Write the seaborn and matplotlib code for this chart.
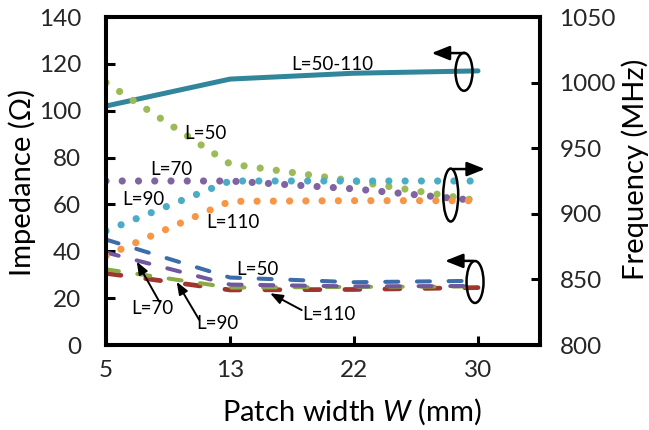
import matplotlib
matplotlib.use("Agg")
import matplotlib.pyplot as plt
import seaborn as sns
from matplotlib.patches import Ellipse
from matplotlib.patches import ArrowStyle

# ---------------- data ----------------
W_mm = [5, 13, 22, 30]                       # patch width categories
imp_L50_110 = [102, 113.5, 116, 117]         # solid line, impedance (Ohm)
imp_L50 = [45, 28.8, 26.8, 27.4]             # dashed, impedance
imp_L70 = [39.5, 25.8, 25.0, 25.2]
imp_L90 = [32.3, 24.5, 24.8, 25.0]
imp_L110 = [30.6, 23.5, 23.7, 24.5]
freq_L50 = [1000, 938, 925, 910]             # dotted, frequency (MHz)
freq_L70 = [925, 925, 919, 910]
freq_L90 = [887, 925, 925, 925]
freq_L110 = [868, 909.5, 910, 910]
left_ticks = [0, 20, 40, 60, 80, 100, 120, 140]
right_ticks = [800, 850, 900, 950, 1000, 1050]

pos = list(range(len(W_mm)))

sns.set_theme(style="white")
plt.rcParams['font.family'] = ['Lato', 'DejaVu Sans']
plt.rcParams['mathtext.fontset'] = 'custom'
plt.rcParams['mathtext.it'] = 'Lato:italic'
plt.rcParams['mathtext.rm'] = 'Lato'
plt.rcParams['lines.scale_dashes'] = False

fig = plt.figure(figsize=(6.49, 4.30), dpi=100)
ax = fig.add_axes([106/649, 85/430, 434/649, 328/430])
ax2 = ax.twinx()


def draw(axis, y, color, lw, ls):
    sns.lineplot(x=pos, y=y, ax=axis, color=color, linewidth=lw, linestyle=ls,
                 dash_capstyle='round', solid_capstyle='round',
                 legend=False, errorbar=None)


dot = (0, (0.001, 11.7))
dash = (0, (9.4, 13.4))
longdash = (0, (10.8, 18.0))

# impedance (left axis)
draw(ax, imp_L50_110, '#31869B', 3.6, '-')
draw(ax, imp_L50, '#3D6CAA', 2.9, dash)
draw(ax, imp_L110, '#A0342F', 3.4, longdash)
draw(ax, imp_L90, '#8AAA45', 2.9, dash)
draw(ax, imp_L70, '#70579E', 2.9, dash)

# frequency (right axis)
draw(ax2, freq_L50, '#9BBB59', 5.2, dot)
draw(ax2, freq_L70, '#8064A2', 5.2, dot)
draw(ax2, freq_L90, '#4BACC6', 5.2, dot)
draw(ax2, freq_L110, '#F79646', 5.2, dot)

ax.set_xlim(0, 3.5)
ax.set_ylim(0, 140)
ax2.set_ylim(800, 1050)
ax.set_xticks(pos)
ax.set_xticklabels([str(w) for w in W_mm])
ax.set_yticks(left_ticks)
ax2.set_yticks(right_ticks)
ax.grid(False)
ax2.grid(False)

for a in (ax, ax2):
    for s in a.spines.values():
        s.set_color('black')
        s.set_linewidth(2.9)
        s.set_visible(True)

ax.tick_params(axis='y', direction='in', length=6.5, width=2.2, color='black',
               labelsize=17.5, pad=18, left=True)
ax.tick_params(axis='x', direction='in', length=6.5, width=2.2, color='black',
               labelsize=17.5, pad=11, bottom=True)
ax2.tick_params(axis='y', direction='in', length=6.5, width=2.2, color='black',
                labelsize=17.5, pad=14, right=True)

ax.set_xlabel('Patch width $\\mathit{W}$ (mm)', fontsize=21, color='black')
ax.set_ylabel('Impedance (Ω)', fontsize=21, color='black')
ax2.set_ylabel('Frequency (MHz)', fontsize=21, color='black', rotation=90)
ax.xaxis.set_label_coords(0.567, -0.203)
ax.yaxis.set_label_coords(-0.1935, 0.494)
ax2.yaxis.set_label_coords(1.219, 0.537)
for lab in (ax.xaxis.label, ax.yaxis.label, ax2.yaxis.label):
    lab.set_va('center')
    lab.set_ha('center')

T = ax.transData
# labels
labels = [
    ("L=50-110", 1.823, 119.9),
    ("L=50", 0.798, 90.1),
    ("L=70", 0.524, 75.1),
    ("L=90", 0.298, 61.9),
    ("L=110", 1.024, 52.5),
    ("L=50", 1.222, 32.2),
    ("L=70", 0.371, 15.4),
    ("L=90", 0.895, 9.0),
    ("L=110", 1.798, 13.2),
]
for s, x, y in labels:
    ax2.text(x, y, s, transform=T, fontsize=13.5, ha='center', va='center',
             color='black', zorder=10)

# pointer arrows
small = ArrowStyle('-|>', head_length=7.5, head_width=2.9)
for (tx, ty), (hx, hy) in [((0.430, 18.5), (0.248, 35.6)),
                           ((0.752, 10.7), (0.570, 27.0)),
                           ((1.578, 14.9), (1.323, 22.1))]:
    ax2.annotate('', xy=(hx, hy), xytext=(tx, ty), xycoords=T, textcoords=T,
                 arrowprops=dict(arrowstyle=small, color='black', lw=1.4,
                                 mutation_scale=1, shrinkA=0, shrinkB=0),
                 zorder=10)

# ellipses
for cx, cy, w, h in [(2.887, 116.6, 0.137, 16.2),
                     (2.780, 64.0, 0.121, 22.6),
                     (2.976, 26.9, 0.137, 17.9)]:
    e = Ellipse((cx, cy), w, h, transform=T, fill=False, edgecolor='black',
                lw=1.8, zorder=10)
    ax2.add_patch(e)

big = ArrowStyle('-|>', head_length=10.8, head_width=4.3)
for (tx, ty), (hx, hy) in [((2.895, 124.6), (2.626, 124.6)),
                           ((2.801, 75.1), (3.056, 75.1)),
                           ((2.962, 35.9), (2.734, 35.9))]:
    ax2.annotate('', xy=(hx, hy), xytext=(tx, ty), xycoords=T, textcoords=T,
                 arrowprops=dict(arrowstyle=big, color='black', lw=1.8,
                                 mutation_scale=1, shrinkA=0, shrinkB=0),
                 zorder=10)

fig.savefig('out.png', dpi=100)
